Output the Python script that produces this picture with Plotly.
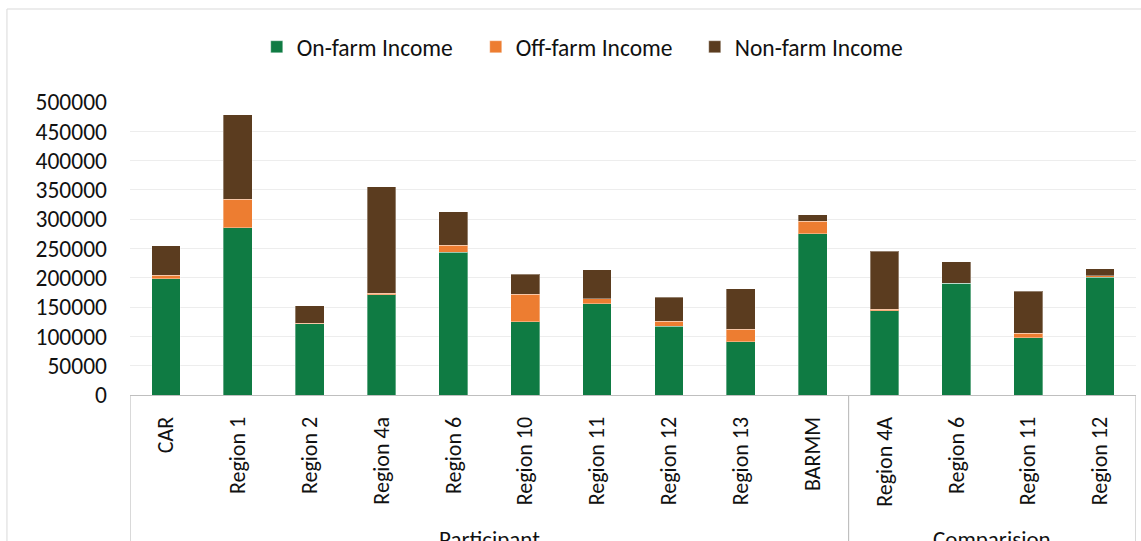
import plotly.graph_objects as go

# Household income by region, split by income source
regions = ["CAR", "Region 1", "Region 2", "Region 4a", "Region 6", "Region 10",
           "Region 11", "Region 12", "Region 13", "BARMM",
           "Region 4A", "Region 6", "Region 11", "Region 12"]
groups = ["Participant"] * 10 + ["Comparision"] * 4

on_farm = [198000, 285500, 122000, 171000, 243500, 125000, 156000,
           117000, 91000, 275000, 144000, 191000, 98000, 201000]
off_farm = [6500, 48500, 500, 3000, 12000, 47000, 8500,
            9000, 21000, 21500, 2000, 0, 7500, 2500]
non_farm = [50000, 144000, 30000, 181000, 57000, 34000, 49000,
            41000, 69000, 11500, 99500, 36000, 71500, 12000]

series = [
    ("On-farm Income", on_farm, "#0F7B43"),
    ("Off-farm Income", off_farm, "#ED7D31"),
    ("Non-farm Income", non_farm, "#5B3C1F"),
]

FONT = "Carlito, Lato, sans-serif"
TEXT = "#111111"
positions = list(range(len(regions)))

fig = go.Figure()
for name, values, color in series:
    fig.add_trace(go.Bar(
        x=positions, y=values, name=name,
        marker=dict(color=color, line=dict(color="rgba(255,255,255,0.35)", width=1)),
        width=0.4,
    ))

# group boundaries for the two-level category axis
group_names = []
for g in groups:
    if g not in group_names:
        group_names.append(g)
bounds = [-0.5]
for g in group_names:
    last = max(i for i, v in enumerate(groups) if v == g)
    bounds.append(last + 0.5)

shapes = []
for b in bounds:
    shapes.append(dict(type="line", xref="x", yref="paper", x0=b, x1=b, y0=0, y1=-0.6,
                       line=dict(color="#BFBFBF", width=1.2)))
# chart area frame
shapes.append(dict(type="rect", xref="paper", yref="paper", x0=-0.1223, x1=1.2,
                   y0=-0.8, y1=1.3174, line=dict(color="#D9D9D9", width=1), layer="below"))

annotations = []
for i, g in enumerate(group_names):
    annotations.append(dict(x=(bounds[i] + bounds[i + 1]) / 2, xref="x", y=-0.437, yref="paper",
                            yanchor="top", text=g, showarrow=False,
                            font=dict(family=FONT, size=23, color=TEXT)))

fig.update_layout(
    width=1141, height=541,
    margin=dict(l=130, r=5, t=102, b=146),
    paper_bgcolor="white", plot_bgcolor="white",
    barmode="stack",
    font=dict(family=FONT, size=22, color=TEXT),
    showlegend=True,
    legend=dict(orientation="h", x=0.126, xanchor="left", y=1.1877, yanchor="middle",
                entrywidth=174, entrywidthmode="pixels",
                font=dict(family=FONT, size=23.5, color=TEXT), traceorder="normal"),
    shapes=shapes,
    annotations=annotations,
)
fig.update_xaxes(
    range=[-0.5, len(regions) - 0.5],
    tickmode="array", tickvals=positions, ticktext=regions, tickangle=-90,
    showline=True, linecolor="#BFBFBF", linewidth=1.2,
    showgrid=False, zeroline=False, ticks="", ticklabelstandoff=12,
    tickfont=dict(family=FONT, size=22, color=TEXT),
)
fig.update_yaxes(
    range=[0, 500000], dtick=50000, tickformat="d",
    showgrid=True, gridcolor="#EDEDED", gridwidth=1.3,
    zeroline=False, showline=False, ticks="", ticklabelstandoff=22,
    tickfont=dict(family=FONT, size=23.5, color=TEXT),
)

fig.write_html("out.html")
